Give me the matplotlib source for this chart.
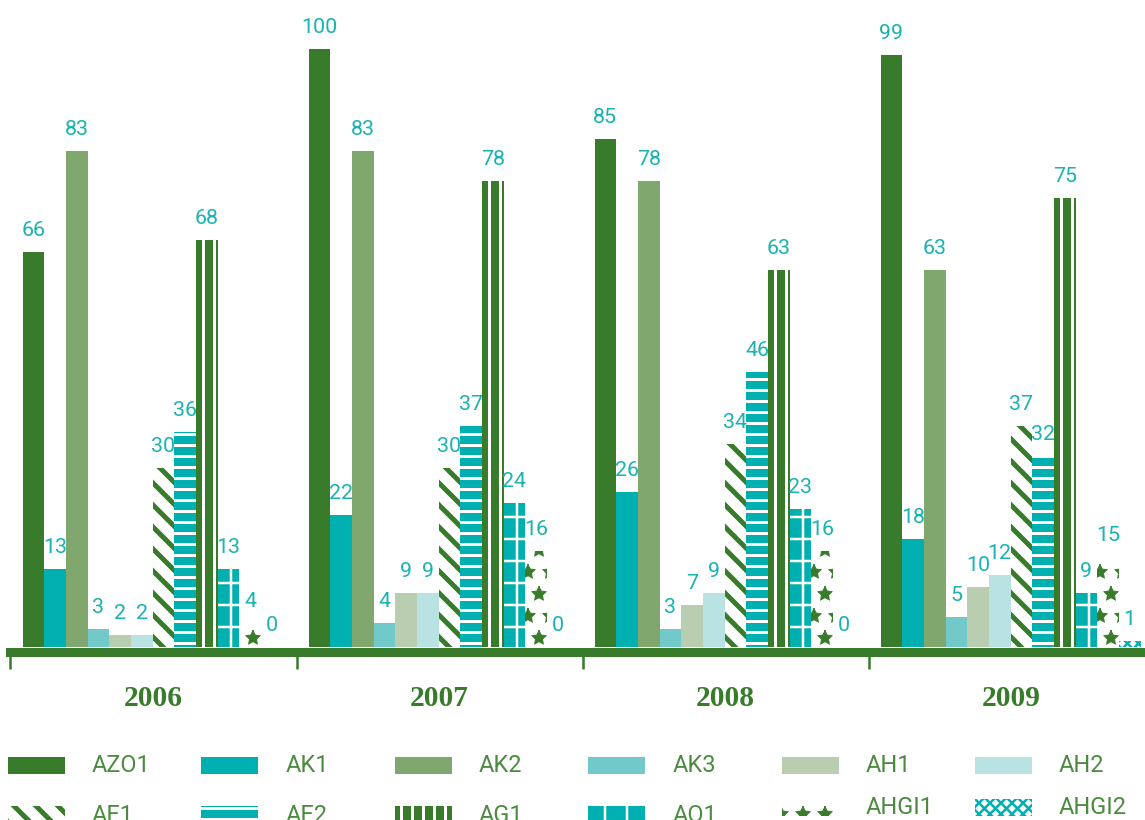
import matplotlib
matplotlib.use("Agg")
import matplotlib.pyplot as plt
from matplotlib.patches import Rectangle
import numpy as np

years = ["2006", "2007", "2008", "2009"]
series = ["AZO1", "AK1", "AK2", "AK3", "AH1", "AH2",
          "AE1", "AE2", "AG1", "AO1", "AHGI1", "AHGI2"]

AZO1 = [66, 100, 85, 99]
AK1 = [13, 22, 26, 18]
AK2 = [83, 83, 78, 63]
AK3 = [3, 4, 3, 5]
AH1 = [2, 9, 7, 10]
AH2 = [2, 9, 9, 12]
AE1 = [30, 30, 34, 37]
AE2 = [36, 37, 46, 32]
AG1 = [68, 78, 63, 75]
AO1 = [13, 24, 23, 9]
AHGI1 = [4, 16, 16, 15]
AHGI2 = [0, 0, 0, 1]
values = [AZO1, AK1, AK2, AK3, AH1, AH2, AE1, AE2, AG1, AO1, AHGI1, AHGI2]

GREEN = "#377b2b"
TEAL = "#00b0b0"
# (face, hatch colour, hatch, hatch linewidth px)
styles = [
    (GREEN, GREEN, None, 0),
    (TEAL, TEAL, None, 0),
    ("#80a86e", "#80a86e", None, 0),
    ("#72c9ca", "#72c9ca", None, 0),
    ("#b9cdb0", "#b9cdb0", None, 0),
    ("#b9e2e2", "#b9e2e2", None, 0),
    ("white", GREEN, "\\\\", 5),
    (TEAL, "white", "--", 3),
    (GREEN, "white", "||", 3),
    (TEAL, "white", "+", 2.5),
    ("white", GREEN, "*", 1),
    ("white", TEAL, "xxxx", 2.5),
]

DPI = 132
PT = 72 / DPI  # px -> pt
FW, FH = 1145, 820

fig = plt.figure(figsize=(FW / DPI, FH / DPI), dpi=DPI)
ax = fig.add_axes([10.5 / FW, 1 - 647 / FH, 4 * 286 / FW, 647 / FH])

w = 21.67 / 286
off = 12 / 286
g = np.arange(len(years))

for j, (name, vals) in enumerate(zip(series, values)):
    face, hc, hatch, hlw = styles[j]
    x = g + off + (j + 0.5) * w
    with plt.rc_context({"hatch.linewidth": max(hlw, 0.1) * PT}):
        bars = ax.bar(x, vals, width=w, color=face, edgecolor=hc,
                      hatch=hatch, linewidth=0)
        for b in bars:
            if hatch and hasattr(b, "set_hatch_linewidth"):
                b.set_hatch_linewidth(hlw * PT)
    for xi, v in zip(x, vals):
        ax.annotate(str(v), (xi, v), xytext=(0, 16 * PT),
                    textcoords="offset points", ha="center", va="baseline",
                    fontsize=21 * PT * 1.02, color="#1ab2b2", family="Roboto")

ax.set_xlim(0, 4)
ax.set_ylim(0, 647 / 5.98)
for s in ["top", "left", "right"]:
    ax.spines[s].set_visible(False)
ax.spines["bottom"].set_color(GREEN)
ax.spines["bottom"].set_linewidth(9 * PT)
ax.spines["bottom"].set_position(("outward", 4.5 * PT))
ax.set_yticks([])
ax.set_xticks(np.arange(5))
ax.set_xticklabels([])
ax.tick_params(axis="x", direction="out", length=16.5 * PT, width=2.5 * PT,
               color=GREEN)

for i, yr in enumerate(years):
    ax.text(i + 0.5, -(706 - 647) / 647, yr, transform=ax.get_xaxis_transform(),
            ha="center", va="baseline", fontsize=29.5 * PT, fontweight="bold",
            color=GREEN, family="Liberation Serif")

# legend, two rows of six (last two of row 2 sit a bit higher)
col0, colstep = 8, 193.4
for j, name in enumerate(series):
    face, hc, hatch, hlw = styles[j]
    r, c = divmod(j, 6)
    x0 = col0 + c * colstep
    if r == 0:
        y0 = 757
    else:
        y0 = 799 if c >= 4 else 806
    with plt.rc_context({"hatch.linewidth": max(hlw, 0.1) * PT}):
        rect = Rectangle((x0 / FW, 1 - (y0 + 17) / FH), 57 / FW, 17 / FH,
                         transform=fig.transFigure, facecolor=face,
                         edgecolor=hc, hatch=hatch, linewidth=0)
        if hatch and hasattr(rect, "set_hatch_linewidth"):
            rect.set_hatch_linewidth(hlw * PT)
    fig.add_artist(rect)
    fig.text((x0 + 84) / FW, 1 - (y0 + 9) / FH, name, ha="left", va="center",
             fontsize=23.5 * PT, color="#4b8b40", family="Roboto")

fig.savefig("out.png", dpi=DPI)
